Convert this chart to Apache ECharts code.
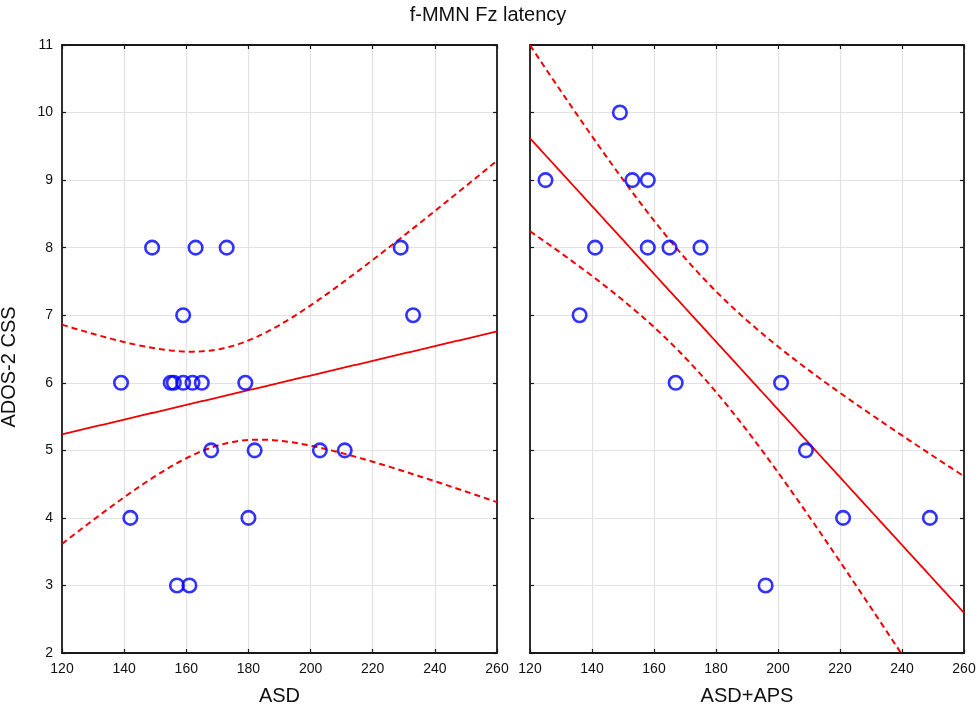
<!DOCTYPE html>
<html>
<head>
<meta charset="utf-8">
<script src="https://cdn.jsdelivr.net/npm/echarts@6/dist/echarts.min.js"></script>
<style>
html,body{margin:0;padding:0;background:#fff;}
#chart{width:976px;height:704px;}
</style>
</head>
<body>
<div id="chart"></div>
<script>
// ---- data ----
const titleText = 'f-MMN Fz latency';
const yName = 'ADOS-2 CSS';
const panelNames = ['ASD', 'ASD+APS'];
const xTicks = [120, 140, 160, 180, 200, 220, 240, 260];
const yTicks = [2, 3, 4, 5, 6, 7, 8, 9, 10, 11];

// ASD group: f-MMN Fz latency (x) vs ADOS-2 CSS (y)
const asdLatency = [149, 163, 173, 229, 159, 233, 139, 155, 156, 159, 162, 165, 179, 168, 182, 203, 211, 142, 180, 157, 161];
const asdCSS     = [8,   8,   8,   8,   7,   7,   6,   6,   6,   6,   6,   6,   6,   5,   5,   5,   5,   4,   4,   3,   3];

// ASD+APS group
const apsLatency = [149, 125, 153, 158, 141, 158, 165, 175, 136, 167, 201, 209, 221, 249, 196];
const apsCSS     = [10,  9,   9,   9,   8,   8,   8,   8,   7,   6,   6,   5,   4,   4,   3];

// two-sided 95% t critical values for n-2 degrees of freedom
const tCritASD = 2.093; // df = 19
const tCritAPS = 2.160; // df = 13

// ---- linear fit with 95% confidence band of the mean ----
function fit(xs, ys, t) {
  const n = xs.length;
  const mx = xs.reduce((a, b) => a + b, 0) / n;
  const my = ys.reduce((a, b) => a + b, 0) / n;
  let sxx = 0, sxy = 0;
  for (let i = 0; i < n; i++) { sxx += (xs[i] - mx) ** 2; sxy += (xs[i] - mx) * (ys[i] - my); }
  const b = sxy / sxx, a = my - b * mx;
  let rss = 0;
  for (let i = 0; i < n; i++) rss += (ys[i] - a - b * xs[i]) ** 2;
  const s = Math.sqrt(rss / (n - 2));
  const line = [], upper = [], lower = [];
  const x0 = xTicks[0], x1 = xTicks[xTicks.length - 1];
  for (let x = x0; x <= x1; x += 1) {
    const yh = a + b * x;
    const h = t * s * Math.sqrt(1 / n + (x - mx) ** 2 / sxx);
    line.push([x, yh]); upper.push([x, yh + h]); lower.push([x, yh - h]);
  }
  return { line, upper, lower };
}
const fitASD = fit(asdLatency, asdCSS, tCritASD);
const fitAPS = fit(apsLatency, apsCSS, tCritAPS);

const FONT = 'Liberation Sans, Arial, sans-serif';
const AX = '#1a1a1a';
const RED = '#f00000';
const BLUE = '#0000ff';

const grids = [
  { left: 62, top: 45, width: 435, height: 608, outerBoundsMode: 'none', containLabel: false },
  { left: 530, top: 45, width: 434, height: 608, outerBoundsMode: 'none', containLabel: false }
];

function xAx(gi, primary) {
  return {
    type: 'value', gridIndex: gi, min: 120, max: 260, interval: 20,
    position: primary ? 'bottom' : 'top',
    name: primary ? panelNames[gi] : '',
    nameLocation: 'middle', nameGap: 33,
    nameTextStyle: { fontFamily: FONT, fontSize: 20, color: '#111' },
    axisLine: { show: true, onZero: false, lineStyle: { color: AX, width: 1.8 } },
    axisTick: { show: true, inside: true, length: 4, lineStyle: { color: AX, width: 1.2 } },
    axisLabel: { show: primary, fontFamily: FONT, fontSize: 14, color: '#111', margin: 9 },
    splitLine: { show: primary, lineStyle: { color: '#e2e2e2', width: 1.2 } }
  };
}
function yAx(gi, primary) {
  const showLab = primary && gi === 0;
  return {
    type: 'value', gridIndex: gi, min: 2, max: 11, interval: 1,
    position: primary ? 'left' : 'right',
    name: showLab ? yName : '',
    nameLocation: 'middle', nameGap: 43, nameRotate: 90,
    nameTextStyle: { fontFamily: FONT, fontSize: 20, color: '#111', padding: [0, 36, 0, 0] },
    axisLine: { show: true, onZero: false, lineStyle: { color: AX, width: 1.8 } },
    axisTick: { show: true, inside: true, length: 4, lineStyle: { color: AX, width: 1.2 } },
    axisLabel: { show: showLab, fontFamily: FONT, fontSize: 14, color: '#111', margin: 9 },
    splitLine: { show: primary, lineStyle: { color: '#e2e2e2', width: 1.2 } }
  };
}

function lineSeries(data, gi, dashed) {
  return {
    type: 'line', xAxisIndex: gi, yAxisIndex: gi, data: data,
    showSymbol: false, symbol: 'none', clip: true, z: 3, silent: true,
    lineStyle: { color: RED, width: dashed ? 2 : 1.8, type: dashed ? [6, 4] : 'solid' }
  };
}
function scatterSeries(xs, ys, gi) {
  return {
    type: 'scatter', xAxisIndex: gi, yAxisIndex: gi,
    data: xs.map((x, i) => [x, ys[i]]),
    symbol: 'circle', symbolSize: 13.5, z: 5,
    itemStyle: { color: 'rgba(0,0,0,0)', borderColor: BLUE, borderWidth: 2.6 }
  };
}

const chart = echarts.init(document.getElementById('chart'), null, { renderer: 'canvas' });
chart.setOption({
  animation: false,
  backgroundColor: '#ffffff',
  title: {
    text: titleText, left: 'center', top: 0,
    textStyle: { fontFamily: FONT, fontSize: 20, fontWeight: 'normal', color: '#111' }
  },
  grid: grids,
  xAxis: [xAx(0, true), xAx(1, true), xAx(0, false), xAx(1, false)],
  yAxis: [yAx(0, true), yAx(1, true), yAx(0, false), yAx(1, false)],
  series: [
    lineSeries(fitASD.line, 0, false),
    lineSeries(fitASD.upper, 0, true),
    lineSeries(fitASD.lower, 0, true),
    scatterSeries(asdLatency, asdCSS, 0),
    lineSeries(fitAPS.line, 1, false),
    lineSeries(fitAPS.upper, 1, true),
    lineSeries(fitAPS.lower, 1, true),
    scatterSeries(apsLatency, apsCSS, 1)
  ]
});
</script>
</body>
</html>
